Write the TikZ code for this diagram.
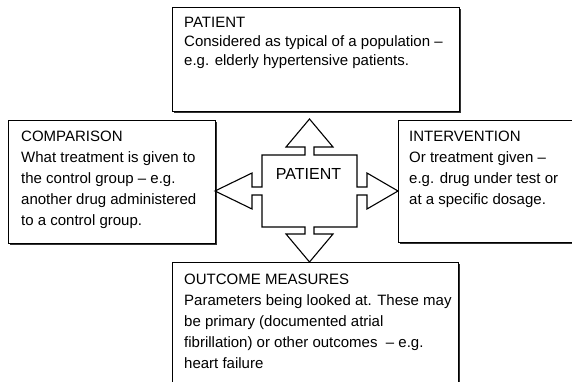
\documentclass[tikz,border=0pt]{standalone}
\usepackage{fontspec}
\setmainfont{Liberation Sans}
\usetikzlibrary{shadows}
\tikzset{
  box/.style={draw=black, line width=1.1pt, fill=white, rectangle, inner sep=0pt,
    anchor=north west,
    drop shadow={shadow xshift=1.1pt, shadow yshift=-1.1pt, fill=black!80, opacity=1}},
  txt/.style={align=left, inner sep=0pt, anchor=north west, text=black,
    font=\fontsize{15}{21}\selectfont},
  toptxt/.style={txt, font=\fontsize{15}{19}\selectfont},
  cross/.style={draw=black, line width=1.1pt, fill=white, line join=miter},
  centretxt/.style={inner sep=0pt, anchor=base, font=\fontsize{16}{19}\selectfont}
}
\begin{document}
\begin{tikzpicture}[x=1pt, y=-1pt]
\useasboundingbox (0,0) rectangle (572,382);
\clip (0,0) rectangle (572,382);
\fill[white] (0,0) rectangle (572,382);

% boxes
\node[box, minimum width=287pt, minimum height=104pt] (patient) at (172,7) {};
\node[box, minimum width=207pt, minimum height=123pt] (comparison) at (8,120) {};
\node[box, minimum width=190pt, minimum height=122pt] (intervention) at (398,120) {};
\node[box, minimum width=286pt, minimum height=140pt] (outcome) at (172,262) {};

% texts
\node[toptxt] (patienttxt) at (184,17) {PATIENT\\Considered as typical of a population --\\e.g. elderly hypertensive patients.};
\node[txt] (comparisontxt) at (21,131) {COMPARISON\\What treatment is given to\\the control group -- e.g.\\another drug administered\\to a control group.};
\node[txt] (interventiontxt) at (409,131) {INTERVENTION\\Or treatment given --\\e.g. drug under test or\\at a specific dosage.};
\node[txt] (outcometxt) at (184,273.5) {OUTCOME MEASURES\\Parameters being looked at. These may\\be primary (documented atrial\\fibrillation) or other outcomes \ -- e.g.\\heart failure};

% central quad arrow
\draw[cross] (309.5,119) -- (333,147) -- (314,147) -- (314,155) -- (357,155)
  -- (357,187) -- (367,187) -- (367,173) -- (398,191) -- (367,209) -- (367,195)
  -- (357,195) -- (357,227) -- (314,227) -- (314,234) -- (333,234) -- (309.5,262)
  -- (286,234) -- (305,234) -- (305,227) -- (262,227) -- (262,195) -- (252,195)
  -- (252,209) -- (215,191) -- (252,173) -- (252,187) -- (262,187) -- (262,155)
  -- (305,155) -- (305,147) -- (286,147) -- cycle;
\node[centretxt] (centre) at (308.5,179) {PATIENT};
\end{tikzpicture}
\end{document}
